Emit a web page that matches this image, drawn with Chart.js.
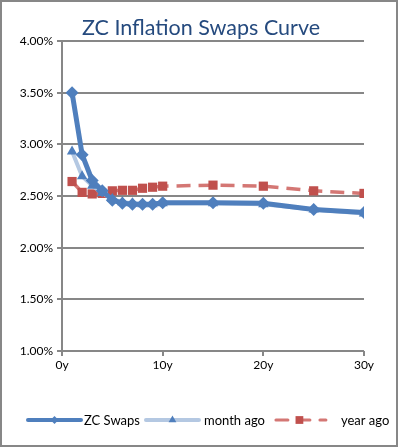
<!DOCTYPE html><html lang="en">
<head>
    <meta charset="UTF-8">
    <title>ZC Inflation Swaps Curve</title>
    <script src="https://cdn.jsdelivr.net/npm/chart.js"></script>
    <style>
        body { margin: 0; background: #fff; }
        #box { width: 398px; height: 447px; box-sizing: border-box; border: 2px solid #878787; background: #fff; }
        canvas { display: block; }
    </style>
</head>
<body>
    <div id="box"><canvas id="curveChart" width="394" height="443"></canvas></div>
<script>
    // tenors in years
    const tenors = [1, 2, 3, 4, 5, 6, 7, 8, 9, 10, 15, 20, 25, 30];
    const zcSwaps = [3.50, 2.90, 2.65, 2.55, 2.46, 2.43, 2.42, 2.42, 2.42, 2.435, 2.435, 2.43, 2.37, 2.34];
    const monthAgo = [2.93, 2.69, 2.60, 2.53, 2.47, 2.44, 2.43, 2.42, 2.42, 2.43, 2.43, 2.42, 2.37, 2.33];
    const yearAgo = [2.64, 2.535, 2.52, 2.525, 2.55, 2.555, 2.555, 2.575, 2.585, 2.595, 2.605, 2.595, 2.55, 2.525];
    const xTicks = [0, 10, 20, 30];
    const yTicks = [1.0, 1.5, 2.0, 2.5, 3.0, 3.5, 4.0];

    const font = "Lato, 'Open Sans', sans-serif";

    function toPoints(vals) {
        return tenors.map((t, i) => ({ x: t, y: vals[i] }));
    }

    // title + legend drawn by hand, Excel style
    const excelBits = {
        id: "excelBits",
        afterDraw(chart) {
            const ctx = chart.ctx;
            const w = chart.width;
            ctx.save();
            ctx.fillStyle = "#254A7E";
            ctx.font = "21.5px " + font;
            ctx.textAlign = "center";
            ctx.textBaseline = "middle";
            ctx.fillText("ZC Inflation Swaps Curve", w / 2 + 2, 26);

            // legend
            ctx.font = "13px " + font;
            ctx.textAlign = "left";
            let x = 26;
            const y = 418;
            const items = [
                { ds: chart.data.datasets[0], lw: 4, gap: 3, after: 6, r: 4 },
                { ds: chart.data.datasets[1], lw: 4, gap: 5, after: 8, r: 4.5 },
                { ds: chart.data.datasets[2], lw: 3, gap: 15, after: 0, r: 5.5 }
            ];
            items.forEach(it => {
                const ds = it.ds;
                const len = 53;
                ctx.strokeStyle = ds.borderColor;
                ctx.lineWidth = it.lw;
                ctx.lineCap = "round";
                ctx.setLineDash(ds.borderDash ? [12, 10] : []);
                ctx.lineDashOffset = ds.borderDash ? -3 : 0;
                ctx.beginPath();
                ctx.moveTo(x, y);
                ctx.lineTo(x + len, y);
                ctx.stroke();
                ctx.setLineDash([]);
                ctx.fillStyle = ds.pointBackgroundColor;
                Chart.helpers.drawPoint(ctx, {
                    pointStyle: ds.pointStyle,
                    rotation: 0,
                    radius: it.r,
                    borderWidth: 0
                }, x + len / 2, y);
                x += len + it.gap;
                ctx.fillStyle = "#000";
                ctx.fillText(ds.label, x, y + 1);
                x += ctx.measureText(ds.label).width + it.after;
            });
            ctx.restore();
        }
    };

    new Chart(document.getElementById("curveChart"), {
        type: "line",
        data: {
            datasets: [{
                label: "ZC Swaps",
                data: toPoints(zcSwaps),
                borderColor: "#4F7FBD",
                backgroundColor: "#4F7FBD",
                pointBackgroundColor: "#4F7FBD",
                borderWidth: 5,
                pointStyle: "rectRot",
                pointRadius: 6.5,
                pointBorderWidth: 0,
                tension: 0
            }, {
                label: "month ago",
                data: toPoints(monthAgo),
                borderColor: "#B4C8E2",
                backgroundColor: "#4F7FBD",
                pointBackgroundColor: "#4F7FBD",
                borderWidth: 4,
                pointStyle: "triangle",
                pointRadius: 6,
                pointBorderWidth: 0,
                tension: 0
            }, {
                label: "year ago",
                data: toPoints(yearAgo),
                borderColor: "#D47774",
                backgroundColor: "#C0504D",
                pointBackgroundColor: "#C0504D",
                borderWidth: 3.5,
                borderDash: [14, 8],
                pointStyle: "rect",
                pointRadius: 6.5,
                pointBorderWidth: 0,
                tension: 0
            }]
        },
        options: {
            responsive: false,
            animation: false,
            layout: { padding: { left: 0, right: 32, top: 39, bottom: 60 } },
            plugins: {
                legend: { display: false },
                title: { display: false },
                tooltip: { enabled: false }
            },
            scales: {
                x: {
                    type: "linear",
                    min: 0,
                    max: 30,
                    afterBuildTicks: axis => { axis.ticks = xTicks.map(v => ({ value: v })); },
                    ticks: {
                        callback: v => v + "y",
                        color: "#000",
                        font: { family: font, size: 12 },
                        padding: 2,
                        maxRotation: 0
                    },
                    grid: { drawOnChartArea: false, drawTicks: true, tickLength: 5, color: "#878787", lineWidth: 2 },
                    border: { display: false },
                    afterFit: axis => { axis.height = 34; }
                },
                y: {
                    min: 1,
                    max: 4,
                    afterBuildTicks: axis => { axis.ticks = yTicks.map(v => ({ value: v })); },
                    ticks: {
                        callback: v => v.toFixed(2) + "%",
                        color: "#000",
                        font: { family: font, size: 12 },
                        padding: 4
                    },
                    grid: { color: "#878787", lineWidth: 2, tickLength: 5 },
                    border: { color: "#878787", width: 2 },
                    afterFit: axis => { axis.width = 60; }
                }
            }
        },
        plugins: [excelBits]
    });
</script>
</body>
</html>
